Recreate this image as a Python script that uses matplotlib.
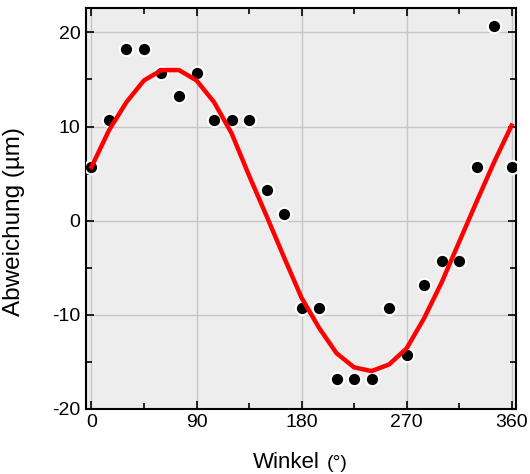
import matplotlib.pyplot as plt
import numpy as np

plt.rcParams["font.family"] = ["Liberation Sans", "DejaVu Sans"]
plt.rcParams["axes.unicode_minus"] = False

# Messwerte: Winkel in Grad, Abweichung in um
winkel = np.arange(0, 361, 15)
abweichung = [5.7, 10.7, 18.2, 18.2, 15.7, 13.2, 15.7, 10.7, 10.7, 10.7,
              3.2, 0.7, -9.3, -9.3, -16.8, -16.8, -16.8, -9.3, -14.3, -6.8,
              -4.3, -4.3, 5.7, 20.7, 5.7]
# Fitkurve an denselben Stuetzstellen
fit = [5.7, 9.6, 12.6, 14.9, 16.0, 16.0, 14.9, 12.6, 9.3, 4.8,
       0.5, -3.9, -8.2, -11.4, -14.1, -15.6, -16.0, -15.3, -13.6, -10.4,
       -6.6, -2.3, 2.0, 6.2, 10.1]

fig = plt.figure(figsize=(5.3, 4.74), dpi=100)
ax = fig.add_axes([86 / 530, 1 - 408.7 / 474, 430 / 530, 400.7 / 474])
ax.set_facecolor("#ededed")

ax.plot(winkel, abweichung, "o", color="black", markersize=9.6,
        markeredgecolor="white", markeredgewidth=1.5, zorder=3)
ax.plot(winkel, fit, color="#ff0000", linewidth=3.2, zorder=4,
        solid_joinstyle="miter")

ax.set_xlim(-4.7, 363.8)
ax.set_ylim(-20, 22.6)
ax.set_xticks([0, 90, 180, 270, 360])
ax.set_xticks([45, 135, 225, 315], minor=True)
ax.set_yticks([-20, -10, 0, 10, 20])
ax.set_yticks([-15, -5, 5, 15], minor=True)
ax.grid(True, which="major", color="#c6c6c6", linewidth=1.0)
ax.set_axisbelow(True)

ax.tick_params(which="both", direction="in", top=True, right=True,
               width=1.2, labelsize=14, pad=4)
ax.tick_params(which="major", length=6)
ax.tick_params(which="minor", length=4)
for s in ax.spines.values():
    s.set_linewidth(1.5)

ax.set_ylabel("Abweichung (µm)", fontsize=17.5)
ax.yaxis.set_label_coords((25 - 86) / 430, (408.7 - 222) / 400.7)
fig.text(253 / 530, 1 - 468 / 474, "Winkel", fontsize=16,
         ha="left", va="baseline")
fig.text(327 / 530, 1 - 468 / 474, "(°)", fontsize=14,
         ha="left", va="baseline")

fig.savefig("out.png", dpi=100)
